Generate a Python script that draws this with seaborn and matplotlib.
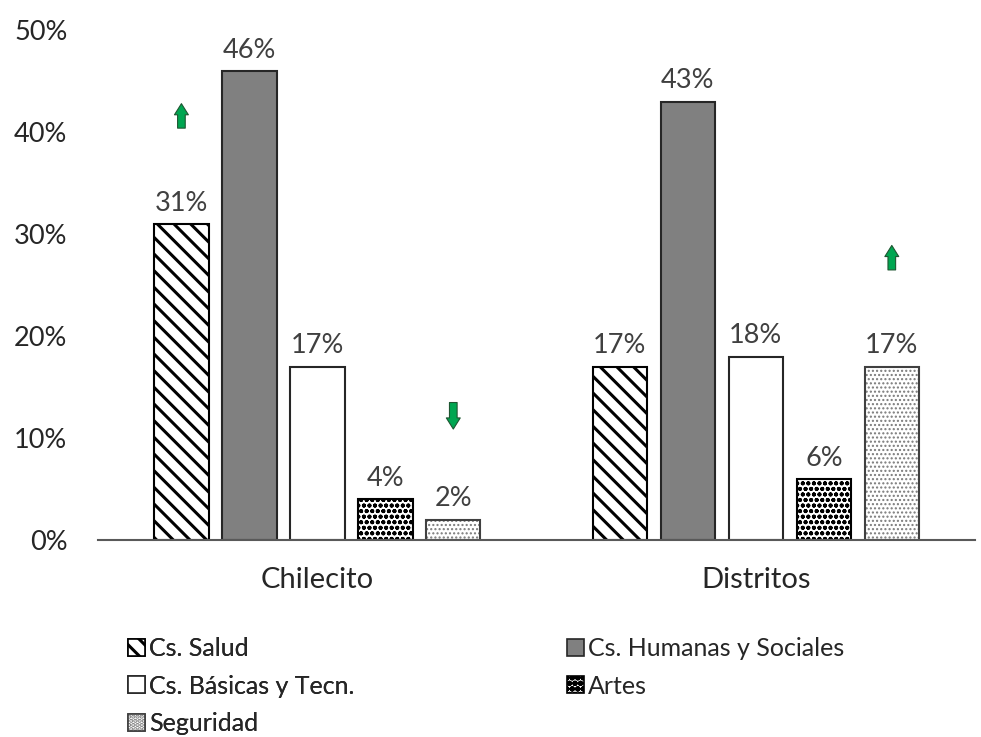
import pandas as pd
import matplotlib
matplotlib.use("Agg")
import matplotlib.pyplot as plt
from matplotlib.patches import Patch
from matplotlib.colors import to_rgba
from matplotlib.ticker import PercentFormatter
import seaborn as sns

lugares = ['Chilecito', 'Distritos']
areas = ['Cs. Salud', 'Cs. Humanas y Sociales', 'Cs. Básicas y Tecn.', 'Artes', 'Seguridad']
chilecito = [0.31, 0.46, 0.17, 0.04, 0.02]
distritos = [0.17, 0.43, 0.18, 0.06, 0.17]
# flechas verdes: (lugar, area, direccion)
flechas = [('Chilecito', 'Cs. Salud', 'up'),
           ('Chilecito', 'Seguridad', 'down'),
           ('Distritos', 'Seguridad', 'up')]

df = pd.DataFrame({
    'lugar': [l for l in lugares for _ in areas],
    'area': areas * len(lugares),
    'valor': chilecito + distritos,
})

estilos = {
    'Cs. Salud': dict(facecolor='white', edgecolor='black', hatch='\\\\', hc='black', hlw=2.2),
    'Cs. Humanas y Sociales': dict(facecolor='#808080', edgecolor='#262626', hatch=None, hc=None, hlw=1),
    'Cs. Básicas y Tecn.': dict(facecolor='white', edgecolor='#262626', hatch=None, hc=None, hlw=1),
    'Artes': dict(facecolor='white', edgecolor='black', hatch='ooo', hc='black', hlw=1.3),
    'Seguridad': dict(facecolor='white', edgecolor='#404040', hatch='....', hc='#7a7a7a', hlw=1.0),
}


def estilo(p, st, lw=1.5):
    p.set_facecolor(st['facecolor'])
    p.set_edgecolor(st['edgecolor'])
    p.set_linewidth(lw)
    if st['hatch']:
        p.set_hatch(st['hatch'])
        p._hatch_color = to_rgba(st['hc'])
        if hasattr(p, 'set_hatch_linewidth'):
            p.set_hatch_linewidth(st['hlw'])


sns.set_style('white')
plt.rcParams['font.family'] = ['Lato', 'DejaVu Sans']
plt.rcParams['hatch.linewidth'] = 2.2

fig = plt.figure(figsize=(9.81, 7.37), dpi=100)
ax = fig.add_axes([0.1, 0.267, 0.894, 0.692])

sns.barplot(data=df, x='lugar', y='valor', hue='area', order=lugares, hue_order=areas,
            width=0.775, gap=0.2, ax=ax, legend=False)

centros = {}
for area, cont in zip(areas, ax.containers):
    for lugar, bar in zip(lugares, cont):
        estilo(bar, estilos[area])
        centros[(lugar, area)] = bar.get_x() + bar.get_width() / 2
    ax.bar_label(cont, labels=[f'{v * 100:.0f}%' for v in cont.datavalues],
                 padding=6, fontsize=19.5, color='#404040')

# flechas
pos_flecha = {('Chilecito', 'Cs. Salud'): (0.404, 0.428),
              ('Chilecito', 'Seguridad'): (0.135, 0.109),
              ('Distritos', 'Seguridad'): (0.265, 0.289)}
for lugar, area, d in flechas:
    y0, y1 = pos_flecha[(lugar, area)]
    x = centros[(lugar, area)]
    ax.annotate('', xy=(x, y1), xytext=(x, y0),
                arrowprops=dict(arrowstyle='simple,head_length=0.8,head_width=1.0,tail_width=0.55',
                                fc='#00a651', ec='#1e5631', lw=0.8, mutation_scale=10,
                                shrinkA=0, shrinkB=0))

ax.set_ylim(0, 0.5)
ax.set_xlim(-0.5, 1.5)
ax.yaxis.set_major_formatter(PercentFormatter(1.0, decimals=0))
ax.set_xlabel('')
ax.set_ylabel('')
ax.tick_params(axis='x', length=0, pad=19, labelsize=21, labelcolor='#262626')
ax.tick_params(axis='y', length=0, pad=22, labelsize=19.5, labelcolor='#262626')
for s in ['left', 'right', 'top']:
    ax.spines[s].set_visible(False)
ax.spines['bottom'].set_color('#595959')
ax.spines['bottom'].set_linewidth(1.5)

handles = {}
for a in areas:
    h = Patch(label=a)
    estilo(h, estilos[a], lw=1.2)
    handles[a] = h
kw = dict(frameon=False, fontsize=18, handlelength=0.68, handleheight=0.68,
          handletextpad=0.15, labelspacing=0.58, borderpad=0, borderaxespad=0,
          loc='upper left', labelcolor='#262626')
col1 = [handles['Cs. Salud'], handles['Cs. Básicas y Tecn.'], handles['Seguridad']]
col2 = [handles['Cs. Humanas y Sociales'], handles['Artes']]
leg1 = fig.legend(handles=col1, bbox_to_anchor=(128 / 981, 1 - 637 / 737), **kw)
fig.add_artist(leg1)
fig.legend(handles=col2, bbox_to_anchor=(567 / 981, 1 - 637 / 737), **kw)

fig.savefig('out.png', dpi=100)
